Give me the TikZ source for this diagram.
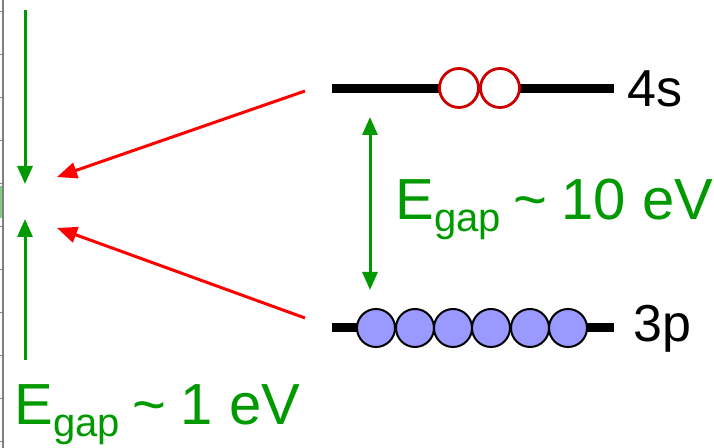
\documentclass[tikz,border=0pt]{standalone}
\usepackage{fontspec}
\setmainfont{Liberation Sans}
\usetikzlibrary{arrows.meta,positioning,calc}
\definecolor{gapgreen}{RGB}{0,153,0}
\definecolor{hopred}{RGB}{255,0,0}
\definecolor{holered}{RGB}{204,0,0}
\definecolor{elblue}{RGB}{153,153,255}
\newcommand{\gapsub}[1]{\raisebox{-6pt}{\fontsize{20}{24}\selectfont #1}}

\begin{document}
\begin{tikzpicture}[
    x=0.5pt,y=-0.5pt,
    level/.style={line width=4.5pt},
    hole/.style={circle,draw=holered,line width=1.4pt,fill=white,minimum size=19.5pt,inner sep=0pt},
    electron/.style={circle,draw=black,line width=1pt,fill=elblue,minimum size=19pt,inner sep=0pt},
    gaparrow/.style={gapgreen,line width=1.5pt,-{Triangle[length=9pt,width=7.5pt]}},
    hoparrow/.style={hopred,line width=1.5pt,-{Triangle[length=10pt,width=8pt]}},
    gaplabel/.style={gapgreen,font=\fontsize{29}{34}\selectfont,anchor=base west,inner sep=0pt},
    levellabel/.style={font=\fontsize{26}{30}\selectfont,anchor=base west,inner sep=0pt}
]
\useasboundingbox (0,0) rectangle (714,448);
% edge of the neighbouring band picture
\fill[gapgreen!50] (0,186) rectangle (3,218);
\draw[gray,line width=0.6pt] (3,0) -- (3,448);
\foreach \y in {12,55,98,141,184,227,270,313,356,399,442}
  \draw[gray,line width=0.5pt] (0,\y) -- (3,\y);

% levels of the atom
\coordinate (s4w) at (332,89);
\coordinate (s4e) at (614,89);
\coordinate (p3w) at (332,328);
\coordinate (p3e) at (614,328);
\draw[level] (s4w) -- (s4e);
\draw[level] (p3w) -- (p3e);
\node[hole] (h1) at (459,88) {};
\node[hole] (h2) at (500,88) {};
\foreach \i/\x in {1/376,2/415,3/453,4/491,5/530,6/568}
  \node[electron] (e\i) at (\x,328) {};
\node[levellabel] (s4) at (627,107) {4s};
\node[levellabel] (p3) at (633,342) {3p};

% gap of the atom
\coordinate (gaptop) at (370,117);
\coordinate (gapbot) at (370,290);
\draw[gaparrow,{Triangle[length=9pt,width=7.5pt]}-{Triangle[length=9pt,width=7.5pt]}] (gaptop) -- (gapbot);
\node[gaplabel] (bigE) at (395,220) {E\gapsub{gap}\hspace{6.5pt}\textasciitilde\hspace{7pt}10 eV};

% gap of the crystal
\coordinate (cbtop) at (25,10);
\coordinate (cbend) at (25,184);
\coordinate (vbbot) at (25,360);
\coordinate (vbend) at (25,219);
\draw[gaparrow] (cbtop) -- (cbend);
\draw[gaparrow] (vbbot) -- (vbend);
\node[gaplabel] (smallE) at (14,425) {E\gapsub{gap}\hspace{6.5pt}\textasciitilde\hspace{7pt}1 eV};

% levels pulled into the gap
\coordinate (hopt) at (305,91);
\coordinate (hopb) at (305,318);
\coordinate (intop) at (57,177);
\coordinate (inbot) at (57,228);
\draw[hoparrow] (hopt) -- (intop);
\draw[hoparrow] (hopb) -- (inbot);
\end{tikzpicture}
\end{document}
